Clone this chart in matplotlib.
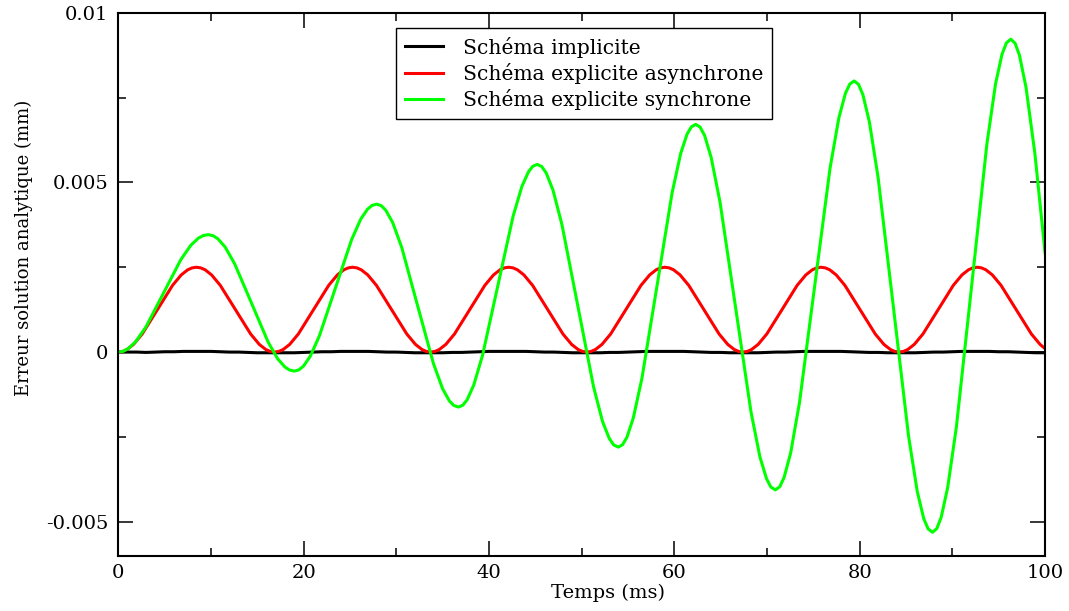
import matplotlib
matplotlib.use("Agg")
import matplotlib.pyplot as plt
from matplotlib.ticker import MultipleLocator, FuncFormatter

# values; errors are in micrometres and are
# converted to mm when drawn

# implicit scheme: almost flat, one sample per ms
temps_implicite = list(range(0, 101))
implicite_um = [
    0.00, 0.00, 0.00, -0.01, 0.00, 0.01, 0.01, 0.02, 0.02, 0.02,
    0.02, 0.01, 0.00, 0.00, -0.01, -0.02, -0.02, -0.02, -0.02, -0.02,
    -0.01, 0.00, 0.01, 0.01, 0.02, 0.02, 0.02, 0.02, 0.01, 0.00,
    0.00, -0.01, -0.02, -0.02, -0.02, -0.02, -0.01, -0.01, 0.00, 0.01,
    0.02, 0.02, 0.02, 0.02, 0.02, 0.01, 0.00, 0.00, -0.01, -0.02,
    -0.02, -0.02, -0.02, -0.01, -0.01, 0.00, 0.01, 0.02, 0.02, 0.02,
    0.02, 0.02, 0.01, 0.00, -0.01, -0.01, -0.02, -0.02, -0.02, -0.02,
    -0.01, 0.00, 0.00, 0.01, 0.02, 0.02, 0.02, 0.02, 0.02, 0.01,
    0.00, -0.01, -0.01, -0.02, -0.02, -0.02, -0.02, -0.01, 0.00, 0.00,
    0.01, 0.02, 0.02, 0.02, 0.02, 0.01, 0.01, 0.00, -0.01, -0.02,
    -0.02,
]

# explicit asynchronous scheme (denser samples near the extrema)
temps_asynchrone = [
    0.000, 0.468, 0.936, 1.638, 2.574, 4.213, 5.851, 6.787, 7.489, 7.957,
    8.425, 8.893, 9.361, 10.063, 10.999, 12.638, 14.276, 15.212, 15.914, 16.382,
    16.850, 17.318, 17.786, 18.488, 19.424, 21.063, 22.701, 23.637, 24.339, 24.807,
    25.275, 25.743, 26.211, 26.913, 27.849, 29.488, 31.126, 32.062, 32.764, 33.232,
    33.700, 34.168, 34.636, 35.338, 36.274, 37.913, 39.551, 40.487, 41.189, 41.657,
    42.125, 42.593, 43.061, 43.763, 44.699, 46.338, 47.976, 48.912, 49.614, 50.082,
    50.550, 51.018, 51.486, 52.188, 53.124, 54.763, 56.401, 57.337, 58.039, 58.507,
    58.975, 59.443, 59.911, 60.613, 61.549, 63.188, 64.826, 65.762, 66.464, 66.932,
    67.400, 67.868, 68.336, 69.038, 69.974, 71.613, 73.251, 74.187, 74.889, 75.357,
    75.825, 76.293, 76.761, 77.463, 78.399, 80.038, 81.676, 82.612, 83.314, 83.782,
    84.250, 84.718, 85.186, 85.888, 86.824, 88.463, 90.101, 91.037, 91.739, 92.207,
    92.675, 93.143, 93.611, 94.313, 95.249, 96.888, 98.526, 99.462, 100.000,
]
asynchrone_um = [
    0.000, 0.019, 0.076, 0.226, 0.533, 1.250, 1.967, 2.274, 2.425, 2.481,
    2.500, 2.481, 2.425, 2.274, 1.967, 1.250, 0.533, 0.226, 0.076, 0.019,
    0.000, 0.019, 0.076, 0.226, 0.533, 1.250, 1.967, 2.274, 2.425, 2.481,
    2.500, 2.481, 2.425, 2.274, 1.967, 1.250, 0.533, 0.226, 0.076, 0.019,
    0.000, 0.019, 0.076, 0.226, 0.533, 1.250, 1.967, 2.274, 2.425, 2.481,
    2.500, 2.481, 2.425, 2.274, 1.967, 1.250, 0.533, 0.226, 0.076, 0.019,
    0.000, 0.019, 0.076, 0.226, 0.533, 1.250, 1.967, 2.274, 2.425, 2.481,
    2.500, 2.481, 2.425, 2.274, 1.967, 1.250, 0.533, 0.226, 0.076, 0.019,
    0.000, 0.019, 0.076, 0.226, 0.533, 1.250, 1.967, 2.274, 2.425, 2.481,
    2.500, 2.481, 2.425, 2.274, 1.967, 1.250, 0.533, 0.226, 0.076, 0.019,
    0.000, 0.019, 0.076, 0.226, 0.533, 1.250, 1.967, 2.274, 2.425, 2.481,
    2.500, 2.481, 2.425, 2.274, 1.967, 1.250, 0.533, 0.226, 0.104,
]

# explicit synchronous scheme (growing oscillation)
temps_synchrone = [
    0.00, 0.54, 1.08, 1.89, 2.97, 4.86, 6.74, 7.82, 8.63, 9.17,
    9.71, 10.23, 10.74, 11.52, 12.55, 14.36, 16.16, 17.19, 17.97, 18.48,
    19.00, 19.49, 19.99, 20.73, 21.71, 23.44, 25.17, 26.15, 26.89, 27.39,
    27.88, 28.37, 28.86, 29.60, 30.58, 32.29, 34.01, 34.99, 35.72, 36.21,
    36.70, 37.17, 37.64, 38.35, 39.30, 40.95, 42.60, 43.55, 44.26, 44.73,
    45.20, 45.69, 46.17, 46.90, 47.87, 49.58, 51.28, 52.25, 52.98, 53.46,
    53.95, 54.41, 54.88, 55.57, 56.50, 58.13, 59.75, 60.68, 61.37, 61.84,
    62.30, 62.78, 63.26, 63.97, 64.93, 66.60, 68.27, 69.23, 69.95, 70.42,
    70.90, 71.37, 71.84, 72.55, 73.50, 75.15, 76.80, 77.75, 78.46, 78.93,
    79.40, 79.87, 80.34, 81.04, 81.98, 83.63, 85.27, 86.21, 86.91, 87.38,
    87.85, 88.32, 88.79, 89.49, 90.43, 92.08, 93.72, 94.66, 95.36, 95.83,
    96.30, 96.77, 97.24, 97.95, 98.90, 100.00,
]
synchrone_um = [
    0.000, 0.026, 0.104, 0.313, 0.738, 1.730, 2.722, 3.147, 3.356, 3.434,
    3.460, 3.429, 3.339, 3.097, 2.603, 1.450, 0.297, -0.197, -0.439, -0.529,
    -0.560, -0.523, -0.411, -0.115, 0.489, 1.900, 3.311, 3.915, 4.211, 4.323,
    4.360, 4.315, 4.179, 3.819, 3.085, 1.370, -0.345, -1.079, -1.439, -1.575,
    -1.620, -1.566, -1.404, -0.974, -0.096, 1.955, 4.006, 4.884, 5.314, 5.476,
    5.530, 5.467, 5.278, 4.777, 3.754, 1.365, -1.024, -2.047, -2.548, -2.737,
    -2.800, -2.728, -2.513, -1.940, -0.773, 1.955, 4.683, 5.850, 6.423, 6.638,
    6.710, 6.628, 6.385, 5.736, 4.414, 1.325, -1.764, -3.086, -3.735, -3.978,
    -4.060, -3.968, -3.696, -2.971, -1.491, 1.965, 5.421, 6.901, 7.626, 7.898,
    7.990, 7.889, 7.588, 6.788, 5.154, 1.340, -2.474, -4.108, -4.908, -5.209,
    -5.310, -5.200, -4.871, -3.997, -2.212, 1.955, 6.122, 7.907, 8.781, 9.110,
    9.220, 9.100, 8.744, 7.794, 5.858, 2.927,
]

labels = ["Schéma implicite",
          "Schéma explicite asynchrone",
          "Schéma explicite synchrone"]
colors = ["#000000", "#ff0000", "#00ff00"]

plt.rcParams["font.family"] = ["DejaVu Serif"]
plt.rcParams["font.size"] = 14
plt.rcParams["axes.unicode_minus"] = False

fig = plt.figure(figsize=(10.69, 6.11), dpi=100)
ax = fig.add_axes([0.1107, 0.0905, 0.8669, 0.8887])

series = [(temps_implicite, implicite_um),
          (temps_asynchrone, asynchrone_um),
          (temps_synchrone, synchrone_um)]
for (t, vals), label, color in zip(series, labels, colors):
    ax.plot(t, [v / 1000 for v in vals], color=color, lw=2.2, label=label)

ax.set_xlim(0, 100)
ax.set_ylim(-0.006, 0.01)

ax.xaxis.set_major_locator(MultipleLocator(20))
ax.xaxis.set_minor_locator(MultipleLocator(10))
ax.yaxis.set_major_locator(MultipleLocator(0.005))
ax.yaxis.set_minor_locator(MultipleLocator(0.0025))
ax.yaxis.set_major_formatter(FuncFormatter(lambda v, p: "%g" % round(v, 6)))
ax.xaxis.set_major_formatter(FuncFormatter(lambda v, p: "%g" % v))

ax.tick_params(which="both", direction="in", top=True, right=True, width=1.1, colors="black")
ax.tick_params(which="major", length=11, labelsize=14)
ax.tick_params(which="minor", length=5.5)
ax.tick_params(axis="y", which="major", pad=7)
ax.tick_params(axis="x", which="major", pad=6)

for spine in ax.spines.values():
    spine.set_linewidth(1.5)

ax.set_xlabel("Temps (ms)", fontsize=14)
ax.set_ylabel("Erreur solution analytique (mm)", fontsize=13)
ax.xaxis.set_label_coords(0.5284, -0.052)
ax.yaxis.set_label_coords(-0.092, 0.5676)

leg = ax.legend(loc="upper left", bbox_to_anchor=(0.2997, 0.9718), borderaxespad=0,
                fancybox=False, framealpha=1, edgecolor="black", fontsize=14.6,
                handlelength=1.9, handletextpad=1.0, labelspacing=0.27,
                borderpad=0.42)
leg.get_frame().set_linewidth(1.0)

fig.savefig("out.png", dpi=100)
